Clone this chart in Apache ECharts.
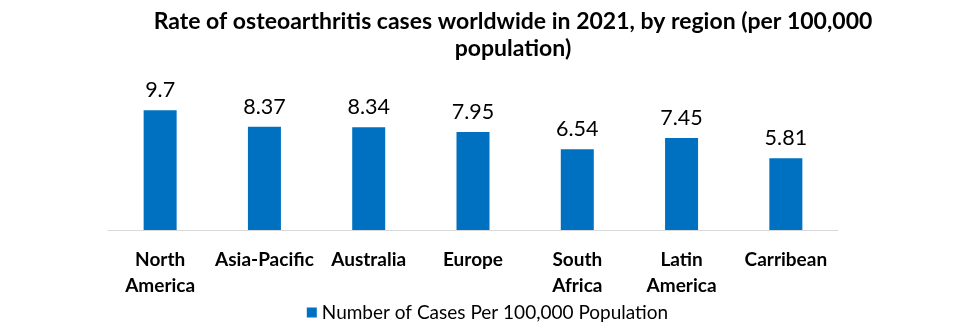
<!DOCTYPE html>
<html>
<head>
<meta charset="utf-8">
<script src="https://cdn.jsdelivr.net/npm/echarts@6/dist/echarts.min.js"></script>
<style>
  html, body { margin: 0; padding: 0; background: #ffffff; }
  #chart { width: 975px; height: 332px; }
</style>
</head>
<body>
<div id="chart"></div>
<script>
// Osteoarthritis rate per 100,000 population by region, 2021
const regions = ['North America', 'Asia-Pacific', 'Australia', 'Europe', 'South Africa', 'Latin America', 'Carribean'];
const casesPer100k = [9.7, 8.37, 8.34, 7.95, 6.54, 7.45, 5.81];
const seriesName = 'Number of Cases Per 100,000 Population';
const titleText = 'Rate of osteoarthritis cases worldwide in 2021, by region (per 100,000\npopulation)';

const FONT = 'Lato, "Open Sans", sans-serif';
const chart = echarts.init(document.getElementById('chart'), null, { renderer: 'canvas' });

chart.setOption({
  animation: false,
  title: {
    text: titleText,
    left: 508,
    textAlign: 'center',
    top: 3,
    textStyle: { fontFamily: FONT, fontSize: 23, fontWeight: 'bold', color: '#000', lineHeight: 27 }
  },
  legend: {
    data: [seriesName],
    bottom: 5,
    left: 'center',
    itemWidth: 10,
    itemHeight: 10,
    itemGap: 6,
    icon: 'rect',
    textStyle: { fontFamily: FONT, fontSize: 19, color: '#000' }
  },
  grid: { left: 108, right: 137, top: 82, bottom: 102, containLabel: false },
  xAxis: {
    type: 'category',
    data: regions,
    axisLine: { show: true, lineStyle: { color: '#d9d9d9', width: 1 } },
    axisTick: { show: false },
    axisLabel: {
      fontFamily: FONT,
      fontSize: 19,
      fontWeight: 'bold',
      color: '#000',
      margin: 17,
      lineHeight: 26,
      interval: 0,
      formatter: v => v.replace(' ', '\n')
    }
  },
  yAxis: {
    type: 'value',
    min: 0,
    max: 12,
    show: false,
    splitLine: { show: false }
  },
  series: [{
    name: seriesName,
    type: 'bar',
    data: casesPer100k,
    barWidth: 33,
    itemStyle: { color: '#0070C0' },
    label: {
      show: true,
      position: 'top',
      distance: 9,
      fontFamily: FONT,
      fontSize: 21.5,
      color: '#000'
    }
  }]
});
</script>
</body>
</html>
